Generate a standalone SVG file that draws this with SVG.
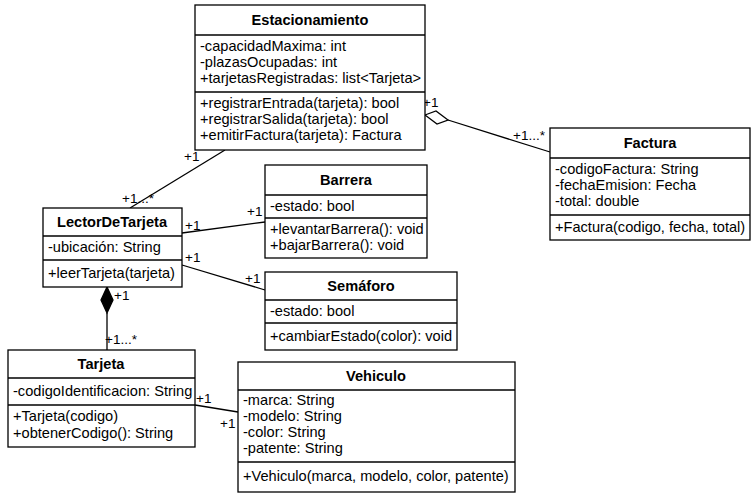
<svg xmlns="http://www.w3.org/2000/svg" width="756" height="500" viewBox="0 0 756 500">
<style>
rect{fill:#fff;stroke:#000;stroke-width:1.3}
.s{stroke:#000;stroke-width:1.3}
text{font-family:"Liberation Sans",Arial,sans-serif;font-size:14.6px;fill:#000}
.t{font-weight:bold;text-anchor:middle;font-size:14.6px}
.l{font-size:13.5px}
</style>
<rect x="0" y="0" width="756" height="500" style="stroke:none"/>
<g id="connectors" fill="none">
<line class="s" x1="225" y1="150" x2="130" y2="208"/>
<line class="s" x1="448" y1="120" x2="550" y2="152"/>
<path d="M425 115 L436 111 L448 120 L437 124 Z" fill="#fff" class="s"/>
<line class="s" x1="182" y1="233" x2="265" y2="222"/>
<line class="s" x1="182" y1="265" x2="265" y2="290"/>
<line class="s" x1="107" y1="313" x2="107" y2="350"/>
<path d="M107 287 L113 300 L107 313 L101 300 Z" fill="#000" class="s"/>
<line class="s" x1="195" y1="405" x2="238" y2="412"/>
<text class="l" x="184" y="161">+1</text>
<text class="l" x="122" y="203">+1...*</text>
<text class="l" x="423" y="107">+1</text>
<text class="l" x="513" y="140">+1...*</text>
<text class="l" x="185" y="230">+1</text>
<text class="l" x="247" y="216">+1</text>
<text class="l" x="185" y="262">+1</text>
<text class="l" x="245" y="283">+1</text>
<text class="l" x="114" y="300">+1</text>
<text class="l" x="105" y="344">+1...*</text>
<text class="l" x="196" y="403">+1</text>
<text class="l" x="220" y="428">+1</text>
</g>
<g id="Estacionamiento">
<rect x="195" y="5" width="230" height="145"/>
<line class="s" x1="195" y1="35" x2="425" y2="35"/><line class="s" x1="195" y1="92" x2="425" y2="92"/>
<text class="t" x="310" y="25">Estacionamiento</text>
<text x="200" y="51">-capacidadMaxima: int</text>
<text x="200" y="67">-plazasOcupadas: int</text>
<text x="200" y="83">+tarjetasRegistradas: list&lt;Tarjeta&gt;</text>
<text x="200" y="108">+registrarEntrada(tarjeta): bool</text>
<text x="200" y="124">+registrarSalida(tarjeta): bool</text>
<text x="200" y="140">+emitirFactura(tarjeta): Factura</text>
</g>
<g id="Factura">
<rect x="550" y="128" width="200" height="112"/>
<line class="s" x1="550" y1="158" x2="750" y2="158"/><line class="s" x1="550" y1="215" x2="750" y2="215"/>
<text class="t" x="650" y="148">Factura</text>
<text x="555" y="174">-codigoFactura: String</text>
<text x="555" y="190">-fechaEmision: Fecha</text>
<text x="555" y="206">-total: double</text>
<text x="555" y="232">+Factura(codigo, fecha, total)</text>
</g>
<g id="Barrera">
<rect x="265" y="165" width="162" height="93"/>
<line class="s" x1="265" y1="195" x2="427" y2="195"/><line class="s" x1="265" y1="218" x2="427" y2="218"/>
<text class="t" x="346" y="185">Barrera</text>
<text x="270" y="211">-estado: bool</text>
<text x="270" y="234">+levantarBarrera(): void</text>
<text x="270" y="250">+bajarBarrera(): void</text>
</g>
<g id="LectorDeTarjeta">
<rect x="43" y="208" width="139" height="79"/>
<line class="s" x1="43" y1="236" x2="182" y2="236"/><line class="s" x1="43" y1="260" x2="182" y2="260"/>
<text class="t" x="112" y="227">LectorDeTarjeta</text>
<text x="48" y="252">-ubicación: String</text>
<text x="48" y="278">+leerTarjeta(tarjeta)</text>
</g>
<g id="Semaforo">
<rect x="265" y="272" width="192" height="78"/>
<line class="s" x1="265" y1="300" x2="457" y2="300"/><line class="s" x1="265" y1="323" x2="457" y2="323"/>
<text class="t" x="361" y="291">Semáforo</text>
<text x="270" y="316">-estado: bool</text>
<text x="270" y="341">+cambiarEstado(color): void</text>
</g>
<g id="Tarjeta">
<rect x="8" y="350" width="187" height="97"/>
<line class="s" x1="8" y1="378" x2="195" y2="378"/><line class="s" x1="8" y1="405" x2="195" y2="405"/>
<text class="t" x="101" y="369">Tarjeta</text>
<text x="13" y="396">-codigoIdentificacion: String</text>
<text x="13" y="421">+Tarjeta(codigo)</text>
<text x="13" y="438">+obtenerCodigo(): String</text>
</g>
<g id="Vehiculo">
<rect x="238" y="362" width="277" height="130"/>
<line class="s" x1="238" y1="390" x2="515" y2="390"/><line class="s" x1="238" y1="462" x2="515" y2="462"/>
<text class="t" x="376" y="381">Vehiculo</text>
<text x="243" y="405">-marca: String</text>
<text x="243" y="421">-modelo: String</text>
<text x="243" y="437">-color: String</text>
<text x="243" y="453">-patente: String</text>
<text x="243" y="481">+Vehiculo(marca, modelo, color, patente)</text>
</g>
</svg>
